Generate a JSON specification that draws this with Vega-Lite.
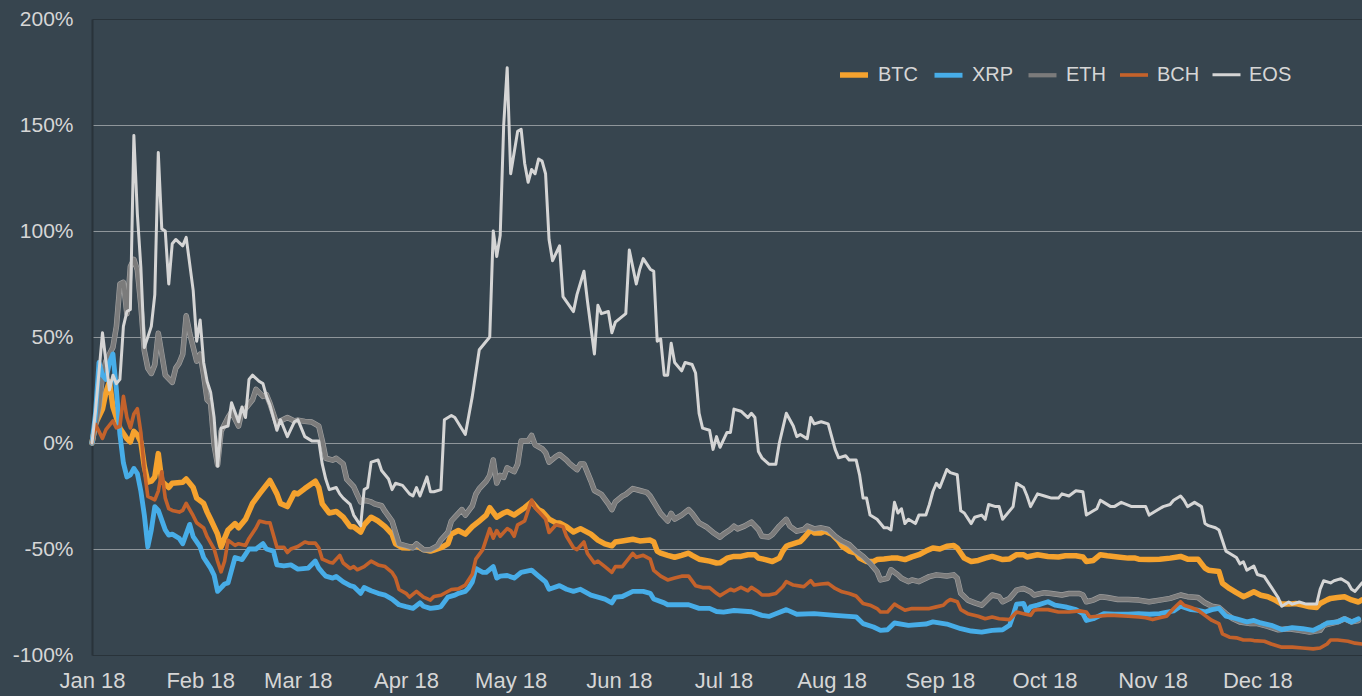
{
"$schema":"https://vega.github.io/schema/vega-lite/v6.json",
"width":1270,"height":636,
"autosize":{"type":"none"},
"padding":{"left":92,"top":19,"right":0,"bottom":41},
"background":"#37454f",
"config":{"view":{"stroke":null},"font":"Liberation Sans",
"legend":{"orient":"none","legendX":745,"legendY":39,"direction":"horizontal","symbolType":"stroke","symbolSize":784,"labelFontSize":20,"labelColor":"#d6d6d6","labelFont":"Liberation Sans","columnPadding":6,"labelOffset":7,"padding":0}},
"datasets":{"months":[{"d":"2018-02-01"},{"d":"2018-03-01"},{"d":"2018-04-01"},{"d":"2018-05-01"},{"d":"2018-06-01"},{"d":"2018-07-01"},{"d":"2018-08-01"},{"d":"2018-09-01"},{"d":"2018-10-01"},{"d":"2018-11-01"},{"d":"2018-12-01"}]},
"data":{"values":[
{"s":"BTC","d":"2018-01-01","v":0},{"s":"BTC","d":"2018-01-02","v":9},{"s":"BTC","d":"2018-01-04","v":16},{"s":"BTC","d":"2018-01-05","v":24},{"s":"BTC","d":"2018-01-06","v":29},{"s":"BTC","d":"2018-01-07","v":17},{"s":"BTC","d":"2018-01-08","v":12},{"s":"BTC","d":"2018-01-09","v":7},{"s":"BTC","d":"2018-01-11","v":2},{"s":"BTC","d":"2018-01-12","v":0.5},{"s":"BTC","d":"2018-01-13","v":5.5},{"s":"BTC","d":"2018-01-14","v":3.8},{"s":"BTC","d":"2018-01-15","v":0.5},{"s":"BTC","d":"2018-01-16","v":-11},{"s":"BTC","d":"2018-01-17","v":-18.5},{"s":"BTC","d":"2018-01-18","v":-18},{"s":"BTC","d":"2018-01-19","v":-16},{"s":"BTC","d":"2018-01-20","v":-5},{"s":"BTC","d":"2018-01-21","v":-18},{"s":"BTC","d":"2018-01-23","v":-21},{"s":"BTC","d":"2018-01-24","v":-19},{"s":"BTC","d":"2018-01-27","v":-18.5},{"s":"BTC","d":"2018-01-28","v":-17},{"s":"BTC","d":"2018-01-30","v":-21},{"s":"BTC","d":"2018-01-31","v":-26},{"s":"BTC","d":"2018-02-02","v":-28.5},{"s":"BTC","d":"2018-02-03","v":-32.6},{"s":"BTC","d":"2018-02-04","v":-36},{"s":"BTC","d":"2018-02-06","v":-43},{"s":"BTC","d":"2018-02-07","v":-49},{"s":"BTC","d":"2018-02-08","v":-45},{"s":"BTC","d":"2018-02-09","v":-41},{"s":"BTC","d":"2018-02-11","v":-38},{"s":"BTC","d":"2018-02-12","v":-40},{"s":"BTC","d":"2018-02-14","v":-36},{"s":"BTC","d":"2018-02-16","v":-28.5},{"s":"BTC","d":"2018-02-18","v":-24},{"s":"BTC","d":"2018-02-21","v":-17.7},{"s":"BTC","d":"2018-02-23","v":-24},{"s":"BTC","d":"2018-02-24","v":-28.5},{"s":"BTC","d":"2018-02-26","v":-30},{"s":"BTC","d":"2018-02-28","v":-23.5},{"s":"BTC","d":"2018-03-01","v":-24},{"s":"BTC","d":"2018-03-03","v":-21.5},{"s":"BTC","d":"2018-03-06","v":-18},{"s":"BTC","d":"2018-03-07","v":-21},{"s":"BTC","d":"2018-03-08","v":-28.7},{"s":"BTC","d":"2018-03-10","v":-33},{"s":"BTC","d":"2018-03-12","v":-32.3},{"s":"BTC","d":"2018-03-14","v":-35},{"s":"BTC","d":"2018-03-16","v":-39.5},{"s":"BTC","d":"2018-03-17","v":-39.5},{"s":"BTC","d":"2018-03-19","v":-42},{"s":"BTC","d":"2018-03-20","v":-38.6},{"s":"BTC","d":"2018-03-22","v":-35},{"s":"BTC","d":"2018-03-24","v":-36.8},{"s":"BTC","d":"2018-03-26","v":-39.5},{"s":"BTC","d":"2018-03-28","v":-43},{"s":"BTC","d":"2018-03-29","v":-47.6},{"s":"BTC","d":"2018-03-31","v":-49.4},{"s":"BTC","d":"2018-04-02","v":-49.5},{"s":"BTC","d":"2018-04-04","v":-48.5},{"s":"BTC","d":"2018-04-06","v":-50.3},{"s":"BTC","d":"2018-04-08","v":-51},{"s":"BTC","d":"2018-04-09","v":-50.5},{"s":"BTC","d":"2018-04-11","v":-49.4},{"s":"BTC","d":"2018-04-13","v":-47.6},{"s":"BTC","d":"2018-04-14","v":-43},{"s":"BTC","d":"2018-04-16","v":-41.3},{"s":"BTC","d":"2018-04-18","v":-43},{"s":"BTC","d":"2018-04-20","v":-39.5},{"s":"BTC","d":"2018-04-22","v":-36.8},{"s":"BTC","d":"2018-04-24","v":-34},{"s":"BTC","d":"2018-04-25","v":-30.5},{"s":"BTC","d":"2018-04-27","v":-35},{"s":"BTC","d":"2018-04-29","v":-33},{"s":"BTC","d":"2018-04-30","v":-32.3},{"s":"BTC","d":"2018-05-02","v":-34},{"s":"BTC","d":"2018-05-05","v":-30.5},{"s":"BTC","d":"2018-05-07","v":-27.8},{"s":"BTC","d":"2018-05-09","v":-31.5},{"s":"BTC","d":"2018-05-10","v":-32.3},{"s":"BTC","d":"2018-05-12","v":-35.9},{"s":"BTC","d":"2018-05-14","v":-37.7},{"s":"BTC","d":"2018-05-15","v":-37.7},{"s":"BTC","d":"2018-05-17","v":-39.5},{"s":"BTC","d":"2018-05-19","v":-42},{"s":"BTC","d":"2018-05-21","v":-40.4},{"s":"BTC","d":"2018-05-24","v":-43},{"s":"BTC","d":"2018-05-26","v":-45.8},{"s":"BTC","d":"2018-05-28","v":-47.6},{"s":"BTC","d":"2018-05-30","v":-48.5},{"s":"BTC","d":"2018-05-31","v":-46.7},{"s":"BTC","d":"2018-06-02","v":-46.2},{"s":"BTC","d":"2018-06-05","v":-45.4},{"s":"BTC","d":"2018-06-07","v":-46.2},{"s":"BTC","d":"2018-06-10","v":-45.8},{"s":"BTC","d":"2018-06-11","v":-46.7},{"s":"BTC","d":"2018-06-12","v":-51},{"s":"BTC","d":"2018-06-13","v":-52},{"s":"BTC","d":"2018-06-15","v":-53},{"s":"BTC","d":"2018-06-17","v":-53.9},{"s":"BTC","d":"2018-06-19","v":-53},{"s":"BTC","d":"2018-06-21","v":-52},{"s":"BTC","d":"2018-06-22","v":-53},{"s":"BTC","d":"2018-06-24","v":-54.8},{"s":"BTC","d":"2018-06-27","v":-55.7},{"s":"BTC","d":"2018-06-29","v":-56.6},{"s":"BTC","d":"2018-06-30","v":-56.5},{"s":"BTC","d":"2018-07-01","v":-55.5},{"s":"BTC","d":"2018-07-02","v":-54.3},{"s":"BTC","d":"2018-07-04","v":-53.5},{"s":"BTC","d":"2018-07-06","v":-53.5},{"s":"BTC","d":"2018-07-08","v":-52.7},{"s":"BTC","d":"2018-07-10","v":-52.7},{"s":"BTC","d":"2018-07-11","v":-54.3},{"s":"BTC","d":"2018-07-13","v":-55},{"s":"BTC","d":"2018-07-15","v":-55.9},{"s":"BTC","d":"2018-07-17","v":-54.3},{"s":"BTC","d":"2018-07-18","v":-51},{"s":"BTC","d":"2018-07-19","v":-48.7},{"s":"BTC","d":"2018-07-20","v":-48},{"s":"BTC","d":"2018-07-22","v":-47},{"s":"BTC","d":"2018-07-23","v":-46.5},{"s":"BTC","d":"2018-07-24","v":-44.8},{"s":"BTC","d":"2018-07-26","v":-41},{"s":"BTC","d":"2018-07-27","v":-42.4},{"s":"BTC","d":"2018-07-29","v":-42.4},{"s":"BTC","d":"2018-07-30","v":-41.6},{"s":"BTC","d":"2018-08-01","v":-43},{"s":"BTC","d":"2018-08-03","v":-46.3},{"s":"BTC","d":"2018-08-04","v":-48.7},{"s":"BTC","d":"2018-08-06","v":-51},{"s":"BTC","d":"2018-08-08","v":-52},{"s":"BTC","d":"2018-08-09","v":-54.3},{"s":"BTC","d":"2018-08-11","v":-55.9},{"s":"BTC","d":"2018-08-13","v":-55.9},{"s":"BTC","d":"2018-08-14","v":-55},{"s":"BTC","d":"2018-08-16","v":-54.7},{"s":"BTC","d":"2018-08-18","v":-54.3},{"s":"BTC","d":"2018-08-20","v":-54.3},{"s":"BTC","d":"2018-08-22","v":-55},{"s":"BTC","d":"2018-08-24","v":-53.7},{"s":"BTC","d":"2018-08-26","v":-52.7},{"s":"BTC","d":"2018-08-28","v":-51},{"s":"BTC","d":"2018-08-30","v":-49.5},{"s":"BTC","d":"2018-09-01","v":-50},{"s":"BTC","d":"2018-09-03","v":-48.7},{"s":"BTC","d":"2018-09-05","v":-48.4},{"s":"BTC","d":"2018-09-06","v":-49.5},{"s":"BTC","d":"2018-09-08","v":-54.3},{"s":"BTC","d":"2018-09-10","v":-55.9},{"s":"BTC","d":"2018-09-12","v":-55.4},{"s":"BTC","d":"2018-09-14","v":-54.3},{"s":"BTC","d":"2018-09-16","v":-53.5},{"s":"BTC","d":"2018-09-19","v":-55},{"s":"BTC","d":"2018-09-21","v":-54.7},{"s":"BTC","d":"2018-09-23","v":-52.7},{"s":"BTC","d":"2018-09-25","v":-52.7},{"s":"BTC","d":"2018-09-26","v":-53.8},{"s":"BTC","d":"2018-09-29","v":-52.7},{"s":"BTC","d":"2018-10-02","v":-53.5},{"s":"BTC","d":"2018-10-05","v":-53.8},{"s":"BTC","d":"2018-10-07","v":-53.2},{"s":"BTC","d":"2018-10-10","v":-53.2},{"s":"BTC","d":"2018-10-12","v":-53.8},{"s":"BTC","d":"2018-10-13","v":-55.9},{"s":"BTC","d":"2018-10-15","v":-55.4},{"s":"BTC","d":"2018-10-17","v":-52.7},{"s":"BTC","d":"2018-10-19","v":-53.2},{"s":"BTC","d":"2018-10-22","v":-53.8},{"s":"BTC","d":"2018-10-25","v":-54.3},{"s":"BTC","d":"2018-10-27","v":-54.3},{"s":"BTC","d":"2018-10-28","v":-54.8},{"s":"BTC","d":"2018-10-31","v":-55},{"s":"BTC","d":"2018-11-03","v":-54.8},{"s":"BTC","d":"2018-11-06","v":-54.3},{"s":"BTC","d":"2018-11-09","v":-53.5},{"s":"BTC","d":"2018-11-11","v":-54.8},{"s":"BTC","d":"2018-11-14","v":-54.8},{"s":"BTC","d":"2018-11-16","v":-59},{"s":"BTC","d":"2018-11-17","v":-60},{"s":"BTC","d":"2018-11-20","v":-60.6},{"s":"BTC","d":"2018-11-21","v":-66.2},{"s":"BTC","d":"2018-11-23","v":-68.6},{"s":"BTC","d":"2018-11-25","v":-70.6},{"s":"BTC","d":"2018-11-27","v":-72.5},{"s":"BTC","d":"2018-11-28","v":-71.8},{"s":"BTC","d":"2018-11-30","v":-70.2},{"s":"BTC","d":"2018-12-02","v":-71.8},{"s":"BTC","d":"2018-12-04","v":-72.5},{"s":"BTC","d":"2018-12-06","v":-74},{"s":"BTC","d":"2018-12-08","v":-76},{"s":"BTC","d":"2018-12-10","v":-76},{"s":"BTC","d":"2018-12-12","v":-75.7},{"s":"BTC","d":"2018-12-14","v":-76.5},{"s":"BTC","d":"2018-12-16","v":-77.3},{"s":"BTC","d":"2018-12-18","v":-77.6},{"s":"BTC","d":"2018-12-19","v":-75.7},{"s":"BTC","d":"2018-12-21","v":-74},{"s":"BTC","d":"2018-12-22","v":-73.3},{"s":"BTC","d":"2018-12-24","v":-72.9},{"s":"BTC","d":"2018-12-26","v":-72.5},{"s":"BTC","d":"2018-12-28","v":-74},{"s":"BTC","d":"2018-12-30","v":-75},{"s":"BTC","d":"2018-12-31","v":-74},
{"s":"XRP","d":"2018-01-01","v":0},{"s":"XRP","d":"2018-01-02","v":14},{"s":"XRP","d":"2018-01-03","v":38},{"s":"XRP","d":"2018-01-04","v":32},{"s":"XRP","d":"2018-01-05","v":30},{"s":"XRP","d":"2018-01-06","v":38},{"s":"XRP","d":"2018-01-07","v":42},{"s":"XRP","d":"2018-01-08","v":25},{"s":"XRP","d":"2018-01-09","v":4},{"s":"XRP","d":"2018-01-10","v":-9.4},{"s":"XRP","d":"2018-01-11","v":-16},{"s":"XRP","d":"2018-01-12","v":-15},{"s":"XRP","d":"2018-01-13","v":-12},{"s":"XRP","d":"2018-01-14","v":-14.4},{"s":"XRP","d":"2018-01-15","v":-22.7},{"s":"XRP","d":"2018-01-16","v":-34},{"s":"XRP","d":"2018-01-17","v":-49},{"s":"XRP","d":"2018-01-18","v":-41},{"s":"XRP","d":"2018-01-19","v":-30},{"s":"XRP","d":"2018-01-20","v":-31.8},{"s":"XRP","d":"2018-01-22","v":-41},{"s":"XRP","d":"2018-01-23","v":-43.4},{"s":"XRP","d":"2018-01-24","v":-43},{"s":"XRP","d":"2018-01-26","v":-45},{"s":"XRP","d":"2018-01-27","v":-47.5},{"s":"XRP","d":"2018-01-29","v":-38.4},{"s":"XRP","d":"2018-01-30","v":-44.2},{"s":"XRP","d":"2018-02-01","v":-49},{"s":"XRP","d":"2018-02-02","v":-54},{"s":"XRP","d":"2018-02-04","v":-59},{"s":"XRP","d":"2018-02-05","v":-62.4},{"s":"XRP","d":"2018-02-06","v":-70},{"s":"XRP","d":"2018-02-08","v":-66.5},{"s":"XRP","d":"2018-02-09","v":-66},{"s":"XRP","d":"2018-02-11","v":-54},{"s":"XRP","d":"2018-02-13","v":-55},{"s":"XRP","d":"2018-02-14","v":-52.5},{"s":"XRP","d":"2018-02-15","v":-50},{"s":"XRP","d":"2018-02-17","v":-50},{"s":"XRP","d":"2018-02-19","v":-47.5},{"s":"XRP","d":"2018-02-20","v":-50},{"s":"XRP","d":"2018-02-22","v":-51},{"s":"XRP","d":"2018-02-23","v":-57.5},{"s":"XRP","d":"2018-02-25","v":-58},{"s":"XRP","d":"2018-02-27","v":-57.5},{"s":"XRP","d":"2018-03-01","v":-59.5},{"s":"XRP","d":"2018-03-04","v":-59},{"s":"XRP","d":"2018-03-06","v":-55.7},{"s":"XRP","d":"2018-03-07","v":-59},{"s":"XRP","d":"2018-03-08","v":-61},{"s":"XRP","d":"2018-03-09","v":-62.8},{"s":"XRP","d":"2018-03-11","v":-63.7},{"s":"XRP","d":"2018-03-12","v":-63},{"s":"XRP","d":"2018-03-14","v":-65.5},{"s":"XRP","d":"2018-03-16","v":-67.3},{"s":"XRP","d":"2018-03-17","v":-67.7},{"s":"XRP","d":"2018-03-19","v":-70.9},{"s":"XRP","d":"2018-03-20","v":-68.2},{"s":"XRP","d":"2018-03-22","v":-69.7},{"s":"XRP","d":"2018-03-24","v":-70.9},{"s":"XRP","d":"2018-03-26","v":-71.8},{"s":"XRP","d":"2018-03-28","v":-73.6},{"s":"XRP","d":"2018-03-30","v":-76.3},{"s":"XRP","d":"2018-04-01","v":-77.2},{"s":"XRP","d":"2018-04-03","v":-78},{"s":"XRP","d":"2018-04-05","v":-75.4},{"s":"XRP","d":"2018-04-06","v":-77},{"s":"XRP","d":"2018-04-08","v":-78},{"s":"XRP","d":"2018-04-10","v":-77.6},{"s":"XRP","d":"2018-04-11","v":-77.2},{"s":"XRP","d":"2018-04-13","v":-72.7},{"s":"XRP","d":"2018-04-15","v":-71.8},{"s":"XRP","d":"2018-04-16","v":-70.9},{"s":"XRP","d":"2018-04-18","v":-70},{"s":"XRP","d":"2018-04-19","v":-68.2},{"s":"XRP","d":"2018-04-20","v":-65.5},{"s":"XRP","d":"2018-04-21","v":-59.2},{"s":"XRP","d":"2018-04-23","v":-61},{"s":"XRP","d":"2018-04-24","v":-61},{"s":"XRP","d":"2018-04-26","v":-58.3},{"s":"XRP","d":"2018-04-27","v":-63.7},{"s":"XRP","d":"2018-04-28","v":-62.8},{"s":"XRP","d":"2018-04-30","v":-62.5},{"s":"XRP","d":"2018-05-02","v":-63.7},{"s":"XRP","d":"2018-05-04","v":-61},{"s":"XRP","d":"2018-05-07","v":-60},{"s":"XRP","d":"2018-05-09","v":-62.8},{"s":"XRP","d":"2018-05-11","v":-65.5},{"s":"XRP","d":"2018-05-12","v":-69},{"s":"XRP","d":"2018-05-15","v":-67.3},{"s":"XRP","d":"2018-05-17","v":-69},{"s":"XRP","d":"2018-05-19","v":-70},{"s":"XRP","d":"2018-05-21","v":-69},{"s":"XRP","d":"2018-05-24","v":-71.8},{"s":"XRP","d":"2018-05-26","v":-72.7},{"s":"XRP","d":"2018-05-28","v":-73.6},{"s":"XRP","d":"2018-05-30","v":-75.4},{"s":"XRP","d":"2018-05-31","v":-72.7},{"s":"XRP","d":"2018-06-02","v":-72.4},{"s":"XRP","d":"2018-06-05","v":-70},{"s":"XRP","d":"2018-06-08","v":-70},{"s":"XRP","d":"2018-06-10","v":-70.9},{"s":"XRP","d":"2018-06-11","v":-73.6},{"s":"XRP","d":"2018-06-14","v":-75.4},{"s":"XRP","d":"2018-06-15","v":-76.3},{"s":"XRP","d":"2018-06-18","v":-76.3},{"s":"XRP","d":"2018-06-21","v":-76.3},{"s":"XRP","d":"2018-06-24","v":-78},{"s":"XRP","d":"2018-06-27","v":-78},{"s":"XRP","d":"2018-06-29","v":-79.5},{"s":"XRP","d":"2018-07-01","v":-79.8},{"s":"XRP","d":"2018-07-04","v":-79},{"s":"XRP","d":"2018-07-09","v":-79.6},{"s":"XRP","d":"2018-07-12","v":-81.3},{"s":"XRP","d":"2018-07-14","v":-81.8},{"s":"XRP","d":"2018-07-16","v":-80.5},{"s":"XRP","d":"2018-07-19","v":-78.6},{"s":"XRP","d":"2018-07-22","v":-80.8},{"s":"XRP","d":"2018-07-27","v":-80.5},{"s":"XRP","d":"2018-08-02","v":-81.3},{"s":"XRP","d":"2018-08-08","v":-82},{"s":"XRP","d":"2018-08-10","v":-85.2},{"s":"XRP","d":"2018-08-13","v":-86.8},{"s":"XRP","d":"2018-08-15","v":-88.4},{"s":"XRP","d":"2018-08-17","v":-88.1},{"s":"XRP","d":"2018-08-19","v":-84.9},{"s":"XRP","d":"2018-08-23","v":-86},{"s":"XRP","d":"2018-08-28","v":-85.4},{"s":"XRP","d":"2018-08-30","v":-84.4},{"s":"XRP","d":"2018-09-03","v":-85.4},{"s":"XRP","d":"2018-09-07","v":-87.6},{"s":"XRP","d":"2018-09-10","v":-88.7},{"s":"XRP","d":"2018-09-13","v":-89.2},{"s":"XRP","d":"2018-09-16","v":-88.4},{"s":"XRP","d":"2018-09-19","v":-88.1},{"s":"XRP","d":"2018-09-21","v":-86},{"s":"XRP","d":"2018-09-22","v":-81.3},{"s":"XRP","d":"2018-09-23","v":-76},{"s":"XRP","d":"2018-09-25","v":-75.7},{"s":"XRP","d":"2018-09-26","v":-79.7},{"s":"XRP","d":"2018-09-27","v":-77.3},{"s":"XRP","d":"2018-09-29","v":-76.5},{"s":"XRP","d":"2018-10-02","v":-74.9},{"s":"XRP","d":"2018-10-04","v":-76.5},{"s":"XRP","d":"2018-10-07","v":-77.3},{"s":"XRP","d":"2018-10-10","v":-78.6},{"s":"XRP","d":"2018-10-12","v":-80.5},{"s":"XRP","d":"2018-10-13","v":-83.7},{"s":"XRP","d":"2018-10-15","v":-82.9},{"s":"XRP","d":"2018-10-18","v":-80.5},{"s":"XRP","d":"2018-10-21","v":-80.8},{"s":"XRP","d":"2018-10-25","v":-80.8},{"s":"XRP","d":"2018-10-28","v":-80.5},{"s":"XRP","d":"2018-10-31","v":-80.8},{"s":"XRP","d":"2018-11-03","v":-80.5},{"s":"XRP","d":"2018-11-07","v":-79.2},{"s":"XRP","d":"2018-11-09","v":-77},{"s":"XRP","d":"2018-11-12","v":-78.6},{"s":"XRP","d":"2018-11-14","v":-78.9},{"s":"XRP","d":"2018-11-16","v":-79.7},{"s":"XRP","d":"2018-11-18","v":-78.6},{"s":"XRP","d":"2018-11-20","v":-78},{"s":"XRP","d":"2018-11-22","v":-81.7},{"s":"XRP","d":"2018-11-25","v":-82.9},{"s":"XRP","d":"2018-11-28","v":-84.4},{"s":"XRP","d":"2018-11-30","v":-83.7},{"s":"XRP","d":"2018-12-02","v":-84.9},{"s":"XRP","d":"2018-12-05","v":-86},{"s":"XRP","d":"2018-12-08","v":-88},{"s":"XRP","d":"2018-12-11","v":-87.1},{"s":"XRP","d":"2018-12-14","v":-87.6},{"s":"XRP","d":"2018-12-17","v":-88.4},{"s":"XRP","d":"2018-12-19","v":-86.8},{"s":"XRP","d":"2018-12-21","v":-84.9},{"s":"XRP","d":"2018-12-24","v":-84.4},{"s":"XRP","d":"2018-12-26","v":-82.9},{"s":"XRP","d":"2018-12-28","v":-84.4},{"s":"XRP","d":"2018-12-30","v":-82.9},
{"s":"ETH","d":"2018-01-01","v":0},{"s":"ETH","d":"2018-01-03","v":17},{"s":"ETH","d":"2018-01-04","v":32},{"s":"ETH","d":"2018-01-05","v":38.6},{"s":"ETH","d":"2018-01-07","v":45.2},{"s":"ETH","d":"2018-01-08","v":55},{"s":"ETH","d":"2018-01-09","v":75},{"s":"ETH","d":"2018-01-10","v":75.8},{"s":"ETH","d":"2018-01-11","v":61},{"s":"ETH","d":"2018-01-12","v":83.3},{"s":"ETH","d":"2018-01-13","v":86.6},{"s":"ETH","d":"2018-01-14","v":81.6},{"s":"ETH","d":"2018-01-15","v":65},{"s":"ETH","d":"2018-01-16","v":43.5},{"s":"ETH","d":"2018-01-17","v":35.3},{"s":"ETH","d":"2018-01-18","v":32.8},{"s":"ETH","d":"2018-01-19","v":36.9},{"s":"ETH","d":"2018-01-20","v":51.8},{"s":"ETH","d":"2018-01-21","v":41.9},{"s":"ETH","d":"2018-01-22","v":32},{"s":"ETH","d":"2018-01-24","v":28.6},{"s":"ETH","d":"2018-01-25","v":35.3},{"s":"ETH","d":"2018-01-26","v":37.7},{"s":"ETH","d":"2018-01-27","v":41.9},{"s":"ETH","d":"2018-01-28","v":60},{"s":"ETH","d":"2018-01-29","v":51.8},{"s":"ETH","d":"2018-01-31","v":38.6},{"s":"ETH","d":"2018-02-01","v":41.9},{"s":"ETH","d":"2018-02-02","v":32},{"s":"ETH","d":"2018-02-03","v":20.4},{"s":"ETH","d":"2018-02-04","v":18.7},{"s":"ETH","d":"2018-02-05","v":-1},{"s":"ETH","d":"2018-02-06","v":-10.3},{"s":"ETH","d":"2018-02-07","v":5.5},{"s":"ETH","d":"2018-02-09","v":12},{"s":"ETH","d":"2018-02-10","v":14.6},{"s":"ETH","d":"2018-02-12","v":8},{"s":"ETH","d":"2018-02-13","v":15.4},{"s":"ETH","d":"2018-02-14","v":16.2},{"s":"ETH","d":"2018-02-16","v":20.4},{"s":"ETH","d":"2018-02-17","v":25.3},{"s":"ETH","d":"2018-02-19","v":22},{"s":"ETH","d":"2018-02-20","v":22.8},{"s":"ETH","d":"2018-02-21","v":18.7},{"s":"ETH","d":"2018-02-23","v":8.8},{"s":"ETH","d":"2018-02-24","v":10.4},{"s":"ETH","d":"2018-02-26","v":12},{"s":"ETH","d":"2018-02-28","v":10.4},{"s":"ETH","d":"2018-03-01","v":10.8},{"s":"ETH","d":"2018-03-03","v":10.2},{"s":"ETH","d":"2018-03-05","v":9.9},{"s":"ETH","d":"2018-03-07","v":8},{"s":"ETH","d":"2018-03-08","v":1},{"s":"ETH","d":"2018-03-09","v":-7.2},{"s":"ETH","d":"2018-03-11","v":-8.1},{"s":"ETH","d":"2018-03-12","v":-7.2},{"s":"ETH","d":"2018-03-14","v":-9.9},{"s":"ETH","d":"2018-03-15","v":-17},{"s":"ETH","d":"2018-03-17","v":-20.6},{"s":"ETH","d":"2018-03-18","v":-24.2},{"s":"ETH","d":"2018-03-19","v":-27.8},{"s":"ETH","d":"2018-03-20","v":-26.9},{"s":"ETH","d":"2018-03-22","v":-27.8},{"s":"ETH","d":"2018-03-23","v":-28.7},{"s":"ETH","d":"2018-03-25","v":-29.6},{"s":"ETH","d":"2018-03-26","v":-32.3},{"s":"ETH","d":"2018-03-28","v":-36.8},{"s":"ETH","d":"2018-03-29","v":-42.2},{"s":"ETH","d":"2018-03-30","v":-47.6},{"s":"ETH","d":"2018-04-01","v":-48.5},{"s":"ETH","d":"2018-04-03","v":-49.4},{"s":"ETH","d":"2018-04-04","v":-47.6},{"s":"ETH","d":"2018-04-06","v":-50.3},{"s":"ETH","d":"2018-04-08","v":-50.3},{"s":"ETH","d":"2018-04-10","v":-48.5},{"s":"ETH","d":"2018-04-11","v":-45.8},{"s":"ETH","d":"2018-04-13","v":-42.2},{"s":"ETH","d":"2018-04-14","v":-36.8},{"s":"ETH","d":"2018-04-15","v":-35},{"s":"ETH","d":"2018-04-17","v":-31.4},{"s":"ETH","d":"2018-04-18","v":-34},{"s":"ETH","d":"2018-04-20","v":-29.6},{"s":"ETH","d":"2018-04-21","v":-24.2},{"s":"ETH","d":"2018-04-22","v":-21.5},{"s":"ETH","d":"2018-04-24","v":-18},{"s":"ETH","d":"2018-04-25","v":-15.3},{"s":"ETH","d":"2018-04-26","v":-8},{"s":"ETH","d":"2018-04-27","v":-18.9},{"s":"ETH","d":"2018-04-28","v":-15.3},{"s":"ETH","d":"2018-04-29","v":-16.2},{"s":"ETH","d":"2018-04-30","v":-11.7},{"s":"ETH","d":"2018-05-02","v":-13.5},{"s":"ETH","d":"2018-05-03","v":-9.9},{"s":"ETH","d":"2018-05-04","v":1},{"s":"ETH","d":"2018-05-06","v":1},{"s":"ETH","d":"2018-05-07","v":3.6},{"s":"ETH","d":"2018-05-08","v":-0.9},{"s":"ETH","d":"2018-05-10","v":-2.7},{"s":"ETH","d":"2018-05-11","v":-4.5},{"s":"ETH","d":"2018-05-12","v":-9},{"s":"ETH","d":"2018-05-14","v":-6.3},{"s":"ETH","d":"2018-05-15","v":-5.4},{"s":"ETH","d":"2018-05-17","v":-8.1},{"s":"ETH","d":"2018-05-18","v":-9.9},{"s":"ETH","d":"2018-05-20","v":-12.6},{"s":"ETH","d":"2018-05-21","v":-9.9},{"s":"ETH","d":"2018-05-22","v":-9.9},{"s":"ETH","d":"2018-05-24","v":-18},{"s":"ETH","d":"2018-05-25","v":-22.4},{"s":"ETH","d":"2018-05-27","v":-24.2},{"s":"ETH","d":"2018-05-29","v":-28.7},{"s":"ETH","d":"2018-05-30","v":-31.4},{"s":"ETH","d":"2018-05-31","v":-27.8},{"s":"ETH","d":"2018-06-02","v":-25.1},{"s":"ETH","d":"2018-06-03","v":-24.2},{"s":"ETH","d":"2018-06-05","v":-21.5},{"s":"ETH","d":"2018-06-07","v":-22.4},{"s":"ETH","d":"2018-06-09","v":-23.3},{"s":"ETH","d":"2018-06-10","v":-25.1},{"s":"ETH","d":"2018-06-12","v":-30.5},{"s":"ETH","d":"2018-06-13","v":-33.2},{"s":"ETH","d":"2018-06-15","v":-36.8},{"s":"ETH","d":"2018-06-16","v":-33.2},{"s":"ETH","d":"2018-06-17","v":-35.9},{"s":"ETH","d":"2018-06-19","v":-34},{"s":"ETH","d":"2018-06-21","v":-31.4},{"s":"ETH","d":"2018-06-22","v":-33.2},{"s":"ETH","d":"2018-06-24","v":-37.7},{"s":"ETH","d":"2018-06-26","v":-39.5},{"s":"ETH","d":"2018-06-28","v":-42.2},{"s":"ETH","d":"2018-06-30","v":-44.4},{"s":"ETH","d":"2018-07-01","v":-43},{"s":"ETH","d":"2018-07-03","v":-40.8},{"s":"ETH","d":"2018-07-04","v":-39.2},{"s":"ETH","d":"2018-07-05","v":-40.5},{"s":"ETH","d":"2018-07-07","v":-39.2},{"s":"ETH","d":"2018-07-09","v":-37.3},{"s":"ETH","d":"2018-07-11","v":-40.8},{"s":"ETH","d":"2018-07-12","v":-44},{"s":"ETH","d":"2018-07-14","v":-44.3},{"s":"ETH","d":"2018-07-15","v":-43.2},{"s":"ETH","d":"2018-07-17","v":-39.2},{"s":"ETH","d":"2018-07-19","v":-36},{"s":"ETH","d":"2018-07-20","v":-39.2},{"s":"ETH","d":"2018-07-22","v":-41.6},{"s":"ETH","d":"2018-07-24","v":-40.8},{"s":"ETH","d":"2018-07-25","v":-39.2},{"s":"ETH","d":"2018-07-27","v":-40.5},{"s":"ETH","d":"2018-07-29","v":-40},{"s":"ETH","d":"2018-07-31","v":-40.8},{"s":"ETH","d":"2018-08-02","v":-44},{"s":"ETH","d":"2018-08-04","v":-46.3},{"s":"ETH","d":"2018-08-06","v":-47.9},{"s":"ETH","d":"2018-08-08","v":-51.1},{"s":"ETH","d":"2018-08-10","v":-53.5},{"s":"ETH","d":"2018-08-12","v":-56.7},{"s":"ETH","d":"2018-08-14","v":-60.6},{"s":"ETH","d":"2018-08-15","v":-64.6},{"s":"ETH","d":"2018-08-17","v":-63.8},{"s":"ETH","d":"2018-08-18","v":-59.8},{"s":"ETH","d":"2018-08-20","v":-62.2},{"s":"ETH","d":"2018-08-21","v":-63.8},{"s":"ETH","d":"2018-08-23","v":-65.4},{"s":"ETH","d":"2018-08-24","v":-64.6},{"s":"ETH","d":"2018-08-26","v":-65.4},{"s":"ETH","d":"2018-08-28","v":-63.8},{"s":"ETH","d":"2018-08-29","v":-63},{"s":"ETH","d":"2018-08-31","v":-62.2},{"s":"ETH","d":"2018-09-03","v":-62.7},{"s":"ETH","d":"2018-09-05","v":-62.2},{"s":"ETH","d":"2018-09-06","v":-63.8},{"s":"ETH","d":"2018-09-07","v":-70.9},{"s":"ETH","d":"2018-09-09","v":-74.1},{"s":"ETH","d":"2018-09-11","v":-75.4},{"s":"ETH","d":"2018-09-13","v":-76.5},{"s":"ETH","d":"2018-09-15","v":-73.3},{"s":"ETH","d":"2018-09-16","v":-71.7},{"s":"ETH","d":"2018-09-18","v":-72.5},{"s":"ETH","d":"2018-09-19","v":-74.9},{"s":"ETH","d":"2018-09-21","v":-73.3},{"s":"ETH","d":"2018-09-23","v":-69.4},{"s":"ETH","d":"2018-09-25","v":-68.6},{"s":"ETH","d":"2018-09-27","v":-70.2},{"s":"ETH","d":"2018-09-28","v":-71.7},{"s":"ETH","d":"2018-10-01","v":-70.6},{"s":"ETH","d":"2018-10-03","v":-71},{"s":"ETH","d":"2018-10-06","v":-71.7},{"s":"ETH","d":"2018-10-08","v":-71},{"s":"ETH","d":"2018-10-11","v":-71},{"s":"ETH","d":"2018-10-12","v":-71.7},{"s":"ETH","d":"2018-10-13","v":-74.9},{"s":"ETH","d":"2018-10-15","v":-74.1},{"s":"ETH","d":"2018-10-17","v":-72.5},{"s":"ETH","d":"2018-10-19","v":-72.9},{"s":"ETH","d":"2018-10-22","v":-73.8},{"s":"ETH","d":"2018-10-25","v":-73.8},{"s":"ETH","d":"2018-10-28","v":-74.1},{"s":"ETH","d":"2018-10-31","v":-74.9},{"s":"ETH","d":"2018-11-03","v":-74.1},{"s":"ETH","d":"2018-11-06","v":-73.3},{"s":"ETH","d":"2018-11-09","v":-71.7},{"s":"ETH","d":"2018-11-11","v":-72.5},{"s":"ETH","d":"2018-11-14","v":-72.9},{"s":"ETH","d":"2018-11-16","v":-75.4},{"s":"ETH","d":"2018-11-18","v":-77},{"s":"ETH","d":"2018-11-20","v":-77.6},{"s":"ETH","d":"2018-11-22","v":-80.5},{"s":"ETH","d":"2018-11-24","v":-82.9},{"s":"ETH","d":"2018-11-26","v":-84.4},{"s":"ETH","d":"2018-11-29","v":-85.2},{"s":"ETH","d":"2018-12-01","v":-85.2},{"s":"ETH","d":"2018-12-04","v":-86.5},{"s":"ETH","d":"2018-12-07","v":-88.1},{"s":"ETH","d":"2018-12-10","v":-87.6},{"s":"ETH","d":"2018-12-13","v":-88.4},{"s":"ETH","d":"2018-12-16","v":-89.2},{"s":"ETH","d":"2018-12-19","v":-88.4},{"s":"ETH","d":"2018-12-20","v":-86},{"s":"ETH","d":"2018-12-22","v":-85.2},{"s":"ETH","d":"2018-12-24","v":-84.4},{"s":"ETH","d":"2018-12-26","v":-82.9},{"s":"ETH","d":"2018-12-28","v":-84.4},{"s":"ETH","d":"2018-12-30","v":-83.7},
{"s":"BCH","d":"2018-01-01","v":0},{"s":"BCH","d":"2018-01-02","v":8.8},{"s":"BCH","d":"2018-01-03","v":5.5},{"s":"BCH","d":"2018-01-04","v":2.2},{"s":"BCH","d":"2018-01-05","v":6.3},{"s":"BCH","d":"2018-01-07","v":10.4},{"s":"BCH","d":"2018-01-08","v":7.1},{"s":"BCH","d":"2018-01-09","v":7.9},{"s":"BCH","d":"2018-01-10","v":22},{"s":"BCH","d":"2018-01-11","v":12.1},{"s":"BCH","d":"2018-01-12","v":7.1},{"s":"BCH","d":"2018-01-13","v":13.7},{"s":"BCH","d":"2018-01-14","v":16.2},{"s":"BCH","d":"2018-01-15","v":5},{"s":"BCH","d":"2018-01-16","v":-12.7},{"s":"BCH","d":"2018-01-17","v":-25.2},{"s":"BCH","d":"2018-01-19","v":-26.8},{"s":"BCH","d":"2018-01-20","v":-22.7},{"s":"BCH","d":"2018-01-21","v":-13.6},{"s":"BCH","d":"2018-01-22","v":-26},{"s":"BCH","d":"2018-01-23","v":-31},{"s":"BCH","d":"2018-01-24","v":-31.8},{"s":"BCH","d":"2018-01-26","v":-32.6},{"s":"BCH","d":"2018-01-27","v":-31.8},{"s":"BCH","d":"2018-01-28","v":-28.5},{"s":"BCH","d":"2018-01-30","v":-34.3},{"s":"BCH","d":"2018-01-31","v":-37.6},{"s":"BCH","d":"2018-02-02","v":-40.1},{"s":"BCH","d":"2018-02-03","v":-44.2},{"s":"BCH","d":"2018-02-05","v":-50},{"s":"BCH","d":"2018-02-06","v":-55.8},{"s":"BCH","d":"2018-02-07","v":-60.8},{"s":"BCH","d":"2018-02-08","v":-55.8},{"s":"BCH","d":"2018-02-09","v":-45.9},{"s":"BCH","d":"2018-02-11","v":-48.3},{"s":"BCH","d":"2018-02-12","v":-47.5},{"s":"BCH","d":"2018-02-14","v":-48.3},{"s":"BCH","d":"2018-02-15","v":-45},{"s":"BCH","d":"2018-02-17","v":-40.1},{"s":"BCH","d":"2018-02-18","v":-36.8},{"s":"BCH","d":"2018-02-20","v":-37.6},{"s":"BCH","d":"2018-02-21","v":-37.6},{"s":"BCH","d":"2018-02-22","v":-43.4},{"s":"BCH","d":"2018-02-23","v":-49.2},{"s":"BCH","d":"2018-02-25","v":-49.2},{"s":"BCH","d":"2018-02-26","v":-51.7},{"s":"BCH","d":"2018-02-27","v":-50},{"s":"BCH","d":"2018-03-01","v":-48.8},{"s":"BCH","d":"2018-03-03","v":-46.7},{"s":"BCH","d":"2018-03-04","v":-47.2},{"s":"BCH","d":"2018-03-06","v":-47.2},{"s":"BCH","d":"2018-03-07","v":-49.4},{"s":"BCH","d":"2018-03-08","v":-54.8},{"s":"BCH","d":"2018-03-10","v":-56.2},{"s":"BCH","d":"2018-03-11","v":-56.6},{"s":"BCH","d":"2018-03-13","v":-53},{"s":"BCH","d":"2018-03-14","v":-56.6},{"s":"BCH","d":"2018-03-16","v":-59.2},{"s":"BCH","d":"2018-03-17","v":-58.3},{"s":"BCH","d":"2018-03-18","v":-59.8},{"s":"BCH","d":"2018-03-20","v":-58.3},{"s":"BCH","d":"2018-03-22","v":-55.7},{"s":"BCH","d":"2018-03-24","v":-57.5},{"s":"BCH","d":"2018-03-26","v":-58.3},{"s":"BCH","d":"2018-03-28","v":-61},{"s":"BCH","d":"2018-03-29","v":-63.7},{"s":"BCH","d":"2018-03-30","v":-69.1},{"s":"BCH","d":"2018-04-01","v":-70.9},{"s":"BCH","d":"2018-04-02","v":-72.7},{"s":"BCH","d":"2018-04-04","v":-70},{"s":"BCH","d":"2018-04-06","v":-72.7},{"s":"BCH","d":"2018-04-08","v":-74.1},{"s":"BCH","d":"2018-04-09","v":-72.4},{"s":"BCH","d":"2018-04-11","v":-71.8},{"s":"BCH","d":"2018-04-14","v":-69.1},{"s":"BCH","d":"2018-04-16","v":-68.8},{"s":"BCH","d":"2018-04-18","v":-67},{"s":"BCH","d":"2018-04-20","v":-61.9},{"s":"BCH","d":"2018-04-21","v":-54.8},{"s":"BCH","d":"2018-04-23","v":-50.3},{"s":"BCH","d":"2018-04-25","v":-40.4},{"s":"BCH","d":"2018-04-26","v":-44.9},{"s":"BCH","d":"2018-04-27","v":-41.3},{"s":"BCH","d":"2018-04-28","v":-44},{"s":"BCH","d":"2018-04-30","v":-40.4},{"s":"BCH","d":"2018-05-01","v":-41.3},{"s":"BCH","d":"2018-05-02","v":-44},{"s":"BCH","d":"2018-05-03","v":-38.6},{"s":"BCH","d":"2018-05-05","v":-36.8},{"s":"BCH","d":"2018-05-07","v":-26.9},{"s":"BCH","d":"2018-05-08","v":-30.5},{"s":"BCH","d":"2018-05-10","v":-34.1},{"s":"BCH","d":"2018-05-11","v":-35.9},{"s":"BCH","d":"2018-05-12","v":-42.2},{"s":"BCH","d":"2018-05-14","v":-38.6},{"s":"BCH","d":"2018-05-16","v":-39.5},{"s":"BCH","d":"2018-05-17","v":-44},{"s":"BCH","d":"2018-05-19","v":-49.4},{"s":"BCH","d":"2018-05-20","v":-50.3},{"s":"BCH","d":"2018-05-22","v":-46.7},{"s":"BCH","d":"2018-05-23","v":-52.1},{"s":"BCH","d":"2018-05-25","v":-56.6},{"s":"BCH","d":"2018-05-26","v":-55.7},{"s":"BCH","d":"2018-05-28","v":-58.3},{"s":"BCH","d":"2018-05-30","v":-61},{"s":"BCH","d":"2018-05-31","v":-58.3},{"s":"BCH","d":"2018-06-02","v":-58.3},{"s":"BCH","d":"2018-06-05","v":-52.1},{"s":"BCH","d":"2018-06-06","v":-53.9},{"s":"BCH","d":"2018-06-08","v":-53},{"s":"BCH","d":"2018-06-10","v":-54.8},{"s":"BCH","d":"2018-06-11","v":-60.1},{"s":"BCH","d":"2018-06-13","v":-62.8},{"s":"BCH","d":"2018-06-15","v":-64.6},{"s":"BCH","d":"2018-06-17","v":-63.7},{"s":"BCH","d":"2018-06-19","v":-62.8},{"s":"BCH","d":"2018-06-21","v":-62.8},{"s":"BCH","d":"2018-06-23","v":-67.3},{"s":"BCH","d":"2018-06-25","v":-68.2},{"s":"BCH","d":"2018-06-27","v":-68.2},{"s":"BCH","d":"2018-06-29","v":-70.9},{"s":"BCH","d":"2018-06-30","v":-72},{"s":"BCH","d":"2018-07-01","v":-71},{"s":"BCH","d":"2018-07-03","v":-69},{"s":"BCH","d":"2018-07-04","v":-69.7},{"s":"BCH","d":"2018-07-06","v":-68.1},{"s":"BCH","d":"2018-07-08","v":-69.7},{"s":"BCH","d":"2018-07-09","v":-68.1},{"s":"BCH","d":"2018-07-11","v":-70.2},{"s":"BCH","d":"2018-07-12","v":-71.7},{"s":"BCH","d":"2018-07-14","v":-71.7},{"s":"BCH","d":"2018-07-16","v":-71},{"s":"BCH","d":"2018-07-18","v":-67.8},{"s":"BCH","d":"2018-07-19","v":-65.4},{"s":"BCH","d":"2018-07-21","v":-67},{"s":"BCH","d":"2018-07-23","v":-67.5},{"s":"BCH","d":"2018-07-24","v":-67.8},{"s":"BCH","d":"2018-07-26","v":-64.9},{"s":"BCH","d":"2018-07-27","v":-67},{"s":"BCH","d":"2018-07-29","v":-66.5},{"s":"BCH","d":"2018-07-31","v":-66.2},{"s":"BCH","d":"2018-08-02","v":-68.6},{"s":"BCH","d":"2018-08-04","v":-70.2},{"s":"BCH","d":"2018-08-06","v":-71},{"s":"BCH","d":"2018-08-08","v":-72.2},{"s":"BCH","d":"2018-08-10","v":-75.7},{"s":"BCH","d":"2018-08-12","v":-76.5},{"s":"BCH","d":"2018-08-14","v":-78.1},{"s":"BCH","d":"2018-08-15","v":-79.7},{"s":"BCH","d":"2018-08-17","v":-79.7},{"s":"BCH","d":"2018-08-19","v":-76},{"s":"BCH","d":"2018-08-20","v":-77},{"s":"BCH","d":"2018-08-22","v":-78.9},{"s":"BCH","d":"2018-08-24","v":-78.1},{"s":"BCH","d":"2018-08-26","v":-78.1},{"s":"BCH","d":"2018-08-29","v":-78.1},{"s":"BCH","d":"2018-08-31","v":-77.3},{"s":"BCH","d":"2018-09-02","v":-76.5},{"s":"BCH","d":"2018-09-03","v":-74.9},{"s":"BCH","d":"2018-09-04","v":-73.8},{"s":"BCH","d":"2018-09-06","v":-74.9},{"s":"BCH","d":"2018-09-07","v":-78.6},{"s":"BCH","d":"2018-09-09","v":-80.5},{"s":"BCH","d":"2018-09-12","v":-81.7},{"s":"BCH","d":"2018-09-14","v":-82.9},{"s":"BCH","d":"2018-09-16","v":-82.1},{"s":"BCH","d":"2018-09-18","v":-82.9},{"s":"BCH","d":"2018-09-21","v":-83.3},{"s":"BCH","d":"2018-09-23","v":-79.7},{"s":"BCH","d":"2018-09-25","v":-80.5},{"s":"BCH","d":"2018-09-27","v":-81.3},{"s":"BCH","d":"2018-09-28","v":-78.9},{"s":"BCH","d":"2018-09-29","v":-78.6},{"s":"BCH","d":"2018-10-02","v":-78.6},{"s":"BCH","d":"2018-10-05","v":-79.7},{"s":"BCH","d":"2018-10-08","v":-79.7},{"s":"BCH","d":"2018-10-11","v":-79.2},{"s":"BCH","d":"2018-10-13","v":-79.7},{"s":"BCH","d":"2018-10-14","v":-82.1},{"s":"BCH","d":"2018-10-16","v":-81.7},{"s":"BCH","d":"2018-10-19","v":-81.3},{"s":"BCH","d":"2018-10-21","v":-81.3},{"s":"BCH","d":"2018-10-25","v":-81.7},{"s":"BCH","d":"2018-10-28","v":-82.1},{"s":"BCH","d":"2018-10-30","v":-82.4},{"s":"BCH","d":"2018-11-01","v":-83.3},{"s":"BCH","d":"2018-11-03","v":-82.4},{"s":"BCH","d":"2018-11-05","v":-81.7},{"s":"BCH","d":"2018-11-07","v":-78.1},{"s":"BCH","d":"2018-11-09","v":-74.9},{"s":"BCH","d":"2018-11-10","v":-76.5},{"s":"BCH","d":"2018-11-12","v":-77.6},{"s":"BCH","d":"2018-11-14","v":-78.9},{"s":"BCH","d":"2018-11-16","v":-81.3},{"s":"BCH","d":"2018-11-18","v":-83.7},{"s":"BCH","d":"2018-11-20","v":-85.2},{"s":"BCH","d":"2018-11-21","v":-90},{"s":"BCH","d":"2018-11-23","v":-91.6},{"s":"BCH","d":"2018-11-25","v":-91.9},{"s":"BCH","d":"2018-11-27","v":-92.9},{"s":"BCH","d":"2018-11-29","v":-92.9},{"s":"BCH","d":"2018-11-30","v":-93.2},{"s":"BCH","d":"2018-12-03","v":-93.5},{"s":"BCH","d":"2018-12-05","v":-94.8},{"s":"BCH","d":"2018-12-08","v":-96.3},{"s":"BCH","d":"2018-12-11","v":-96.3},{"s":"BCH","d":"2018-12-14","v":-96.7},{"s":"BCH","d":"2018-12-17","v":-97.1},{"s":"BCH","d":"2018-12-19","v":-96.7},{"s":"BCH","d":"2018-12-21","v":-94.8},{"s":"BCH","d":"2018-12-22","v":-92.9},{"s":"BCH","d":"2018-12-24","v":-92.9},{"s":"BCH","d":"2018-12-27","v":-93.5},{"s":"BCH","d":"2018-12-29","v":-94.4},{"s":"BCH","d":"2018-12-31","v":-94.8},
{"s":"EOS","d":"2018-01-01","v":0},{"s":"EOS","d":"2018-01-02","v":15},{"s":"EOS","d":"2018-01-04","v":52},{"s":"EOS","d":"2018-01-06","v":25},{"s":"EOS","d":"2018-01-07","v":32},{"s":"EOS","d":"2018-01-08","v":28},{"s":"EOS","d":"2018-01-09","v":30},{"s":"EOS","d":"2018-01-10","v":55},{"s":"EOS","d":"2018-01-11","v":62},{"s":"EOS","d":"2018-01-12","v":63},{"s":"EOS","d":"2018-01-13","v":145},{"s":"EOS","d":"2018-01-14","v":108},{"s":"EOS","d":"2018-01-15","v":83},{"s":"EOS","d":"2018-01-16","v":45},{"s":"EOS","d":"2018-01-18","v":55},{"s":"EOS","d":"2018-01-19","v":70},{"s":"EOS","d":"2018-01-20","v":137},{"s":"EOS","d":"2018-01-21","v":101},{"s":"EOS","d":"2018-01-22","v":100},{"s":"EOS","d":"2018-01-23","v":75},{"s":"EOS","d":"2018-01-24","v":94},{"s":"EOS","d":"2018-01-25","v":96},{"s":"EOS","d":"2018-01-27","v":93},{"s":"EOS","d":"2018-01-28","v":97},{"s":"EOS","d":"2018-01-30","v":72},{"s":"EOS","d":"2018-01-31","v":48},{"s":"EOS","d":"2018-02-01","v":58},{"s":"EOS","d":"2018-02-02","v":38},{"s":"EOS","d":"2018-02-03","v":29},{"s":"EOS","d":"2018-02-04","v":24},{"s":"EOS","d":"2018-02-05","v":12},{"s":"EOS","d":"2018-02-06","v":-11},{"s":"EOS","d":"2018-02-07","v":7},{"s":"EOS","d":"2018-02-09","v":8},{"s":"EOS","d":"2018-02-10","v":19},{"s":"EOS","d":"2018-02-12","v":10},{"s":"EOS","d":"2018-02-13","v":17},{"s":"EOS","d":"2018-02-14","v":12},{"s":"EOS","d":"2018-02-15","v":30},{"s":"EOS","d":"2018-02-16","v":32},{"s":"EOS","d":"2018-02-18","v":29},{"s":"EOS","d":"2018-02-19","v":28},{"s":"EOS","d":"2018-02-20","v":22},{"s":"EOS","d":"2018-02-21","v":18},{"s":"EOS","d":"2018-02-23","v":6},{"s":"EOS","d":"2018-02-24","v":11},{"s":"EOS","d":"2018-02-26","v":3},{"s":"EOS","d":"2018-02-28","v":10},{"s":"EOS","d":"2018-03-01","v":11},{"s":"EOS","d":"2018-03-03","v":3},{"s":"EOS","d":"2018-03-05","v":1},{"s":"EOS","d":"2018-03-07","v":1},{"s":"EOS","d":"2018-03-08","v":-10},{"s":"EOS","d":"2018-03-09","v":-17},{"s":"EOS","d":"2018-03-10","v":-22},{"s":"EOS","d":"2018-03-12","v":-21},{"s":"EOS","d":"2018-03-13","v":-24},{"s":"EOS","d":"2018-03-14","v":-26},{"s":"EOS","d":"2018-03-16","v":-29},{"s":"EOS","d":"2018-03-17","v":-34},{"s":"EOS","d":"2018-03-19","v":-39},{"s":"EOS","d":"2018-03-20","v":-22},{"s":"EOS","d":"2018-03-21","v":-21},{"s":"EOS","d":"2018-03-22","v":-9},{"s":"EOS","d":"2018-03-24","v":-8},{"s":"EOS","d":"2018-03-25","v":-13},{"s":"EOS","d":"2018-03-27","v":-17},{"s":"EOS","d":"2018-03-28","v":-22},{"s":"EOS","d":"2018-03-29","v":-19},{"s":"EOS","d":"2018-03-31","v":-20},{"s":"EOS","d":"2018-04-02","v":-24},{"s":"EOS","d":"2018-04-03","v":-25},{"s":"EOS","d":"2018-04-04","v":-21},{"s":"EOS","d":"2018-04-05","v":-25},{"s":"EOS","d":"2018-04-07","v":-16},{"s":"EOS","d":"2018-04-08","v":-23},{"s":"EOS","d":"2018-04-09","v":-23},{"s":"EOS","d":"2018-04-11","v":-22},{"s":"EOS","d":"2018-04-12","v":11},{"s":"EOS","d":"2018-04-14","v":13},{"s":"EOS","d":"2018-04-15","v":12},{"s":"EOS","d":"2018-04-18","v":4},{"s":"EOS","d":"2018-04-19","v":13},{"s":"EOS","d":"2018-04-20","v":22},{"s":"EOS","d":"2018-04-22","v":44},{"s":"EOS","d":"2018-04-23","v":46},{"s":"EOS","d":"2018-04-25","v":50},{"s":"EOS","d":"2018-04-26","v":100},{"s":"EOS","d":"2018-04-27","v":88},{"s":"EOS","d":"2018-04-28","v":98},{"s":"EOS","d":"2018-04-29","v":150},{"s":"EOS","d":"2018-04-30","v":177},{"s":"EOS","d":"2018-05-01","v":127},{"s":"EOS","d":"2018-05-03","v":147},{"s":"EOS","d":"2018-05-04","v":148},{"s":"EOS","d":"2018-05-05","v":132},{"s":"EOS","d":"2018-05-06","v":123},{"s":"EOS","d":"2018-05-07","v":129},{"s":"EOS","d":"2018-05-08","v":127},{"s":"EOS","d":"2018-05-09","v":134},{"s":"EOS","d":"2018-05-10","v":133},{"s":"EOS","d":"2018-05-11","v":127},{"s":"EOS","d":"2018-05-12","v":96},{"s":"EOS","d":"2018-05-13","v":86},{"s":"EOS","d":"2018-05-15","v":93},{"s":"EOS","d":"2018-05-16","v":69},{"s":"EOS","d":"2018-05-19","v":62},{"s":"EOS","d":"2018-05-20","v":70},{"s":"EOS","d":"2018-05-22","v":81},{"s":"EOS","d":"2018-05-23","v":67},{"s":"EOS","d":"2018-05-25","v":42},{"s":"EOS","d":"2018-05-26","v":65},{"s":"EOS","d":"2018-05-27","v":61},{"s":"EOS","d":"2018-05-29","v":62},{"s":"EOS","d":"2018-05-30","v":52},{"s":"EOS","d":"2018-05-31","v":57},{"s":"EOS","d":"2018-06-03","v":61},{"s":"EOS","d":"2018-06-04","v":91},{"s":"EOS","d":"2018-06-06","v":75},{"s":"EOS","d":"2018-06-07","v":82},{"s":"EOS","d":"2018-06-08","v":87},{"s":"EOS","d":"2018-06-10","v":82},{"s":"EOS","d":"2018-06-11","v":81},{"s":"EOS","d":"2018-06-12","v":48},{"s":"EOS","d":"2018-06-13","v":49},{"s":"EOS","d":"2018-06-14","v":32},{"s":"EOS","d":"2018-06-15","v":32},{"s":"EOS","d":"2018-06-16","v":47},{"s":"EOS","d":"2018-06-17","v":38},{"s":"EOS","d":"2018-06-19","v":34},{"s":"EOS","d":"2018-06-20","v":38},{"s":"EOS","d":"2018-06-22","v":37},{"s":"EOS","d":"2018-06-23","v":33},{"s":"EOS","d":"2018-06-24","v":14},{"s":"EOS","d":"2018-06-25","v":7},{"s":"EOS","d":"2018-06-27","v":6},{"s":"EOS","d":"2018-06-28","v":-3},{"s":"EOS","d":"2018-06-29","v":3},{"s":"EOS","d":"2018-06-30","v":-2},{"s":"EOS","d":"2018-07-02","v":5},{"s":"EOS","d":"2018-07-03","v":5},{"s":"EOS","d":"2018-07-04","v":16},{"s":"EOS","d":"2018-07-06","v":15},{"s":"EOS","d":"2018-07-08","v":12},{"s":"EOS","d":"2018-07-09","v":14},{"s":"EOS","d":"2018-07-10","v":12},{"s":"EOS","d":"2018-07-11","v":-4},{"s":"EOS","d":"2018-07-12","v":-7},{"s":"EOS","d":"2018-07-14","v":-10},{"s":"EOS","d":"2018-07-16","v":-10},{"s":"EOS","d":"2018-07-17","v":0},{"s":"EOS","d":"2018-07-19","v":14},{"s":"EOS","d":"2018-07-21","v":8},{"s":"EOS","d":"2018-07-22","v":3},{"s":"EOS","d":"2018-07-23","v":4},{"s":"EOS","d":"2018-07-25","v":2},{"s":"EOS","d":"2018-07-26","v":12},{"s":"EOS","d":"2018-07-27","v":9},{"s":"EOS","d":"2018-07-29","v":10},{"s":"EOS","d":"2018-07-31","v":9},{"s":"EOS","d":"2018-08-02","v":-3},{"s":"EOS","d":"2018-08-03","v":-7},{"s":"EOS","d":"2018-08-05","v":-6},{"s":"EOS","d":"2018-08-06","v":-8},{"s":"EOS","d":"2018-08-08","v":-8},{"s":"EOS","d":"2018-08-09","v":-15},{"s":"EOS","d":"2018-08-10","v":-26},{"s":"EOS","d":"2018-08-11","v":-26},{"s":"EOS","d":"2018-08-12","v":-34},{"s":"EOS","d":"2018-08-14","v":-36},{"s":"EOS","d":"2018-08-16","v":-40},{"s":"EOS","d":"2018-08-17","v":-40},{"s":"EOS","d":"2018-08-18","v":-41},{"s":"EOS","d":"2018-08-19","v":-28},{"s":"EOS","d":"2018-08-20","v":-33},{"s":"EOS","d":"2018-08-21","v":-31},{"s":"EOS","d":"2018-08-22","v":-38},{"s":"EOS","d":"2018-08-23","v":-36},{"s":"EOS","d":"2018-08-25","v":-38},{"s":"EOS","d":"2018-08-26","v":-34},{"s":"EOS","d":"2018-08-28","v":-34},{"s":"EOS","d":"2018-08-29","v":-29},{"s":"EOS","d":"2018-08-30","v":-23},{"s":"EOS","d":"2018-08-31","v":-19},{"s":"EOS","d":"2018-09-01","v":-21},{"s":"EOS","d":"2018-09-03","v":-12.5},{"s":"EOS","d":"2018-09-04","v":-14},{"s":"EOS","d":"2018-09-06","v":-15},{"s":"EOS","d":"2018-09-07","v":-32},{"s":"EOS","d":"2018-09-08","v":-33},{"s":"EOS","d":"2018-09-10","v":-38},{"s":"EOS","d":"2018-09-11","v":-35},{"s":"EOS","d":"2018-09-13","v":-34},{"s":"EOS","d":"2018-09-14","v":-36},{"s":"EOS","d":"2018-09-15","v":-29},{"s":"EOS","d":"2018-09-17","v":-30},{"s":"EOS","d":"2018-09-18","v":-30},{"s":"EOS","d":"2018-09-19","v":-36},{"s":"EOS","d":"2018-09-21","v":-32},{"s":"EOS","d":"2018-09-22","v":-30},{"s":"EOS","d":"2018-09-23","v":-19},{"s":"EOS","d":"2018-09-25","v":-21},{"s":"EOS","d":"2018-09-26","v":-25},{"s":"EOS","d":"2018-09-27","v":-30},{"s":"EOS","d":"2018-09-29","v":-24},{"s":"EOS","d":"2018-10-01","v":-25},{"s":"EOS","d":"2018-10-03","v":-26},{"s":"EOS","d":"2018-10-05","v":-26},{"s":"EOS","d":"2018-10-06","v":-24},{"s":"EOS","d":"2018-10-08","v":-25},{"s":"EOS","d":"2018-10-10","v":-22.5},{"s":"EOS","d":"2018-10-12","v":-23},{"s":"EOS","d":"2018-10-13","v":-34},{"s":"EOS","d":"2018-10-15","v":-32},{"s":"EOS","d":"2018-10-16","v":-31},{"s":"EOS","d":"2018-10-17","v":-27},{"s":"EOS","d":"2018-10-18","v":-28},{"s":"EOS","d":"2018-10-20","v":-30},{"s":"EOS","d":"2018-10-21","v":-30},{"s":"EOS","d":"2018-10-23","v":-28},{"s":"EOS","d":"2018-10-26","v":-30},{"s":"EOS","d":"2018-10-28","v":-30},{"s":"EOS","d":"2018-10-30","v":-30},{"s":"EOS","d":"2018-10-31","v":-34},{"s":"EOS","d":"2018-11-02","v":-32},{"s":"EOS","d":"2018-11-04","v":-30},{"s":"EOS","d":"2018-11-06","v":-29},{"s":"EOS","d":"2018-11-07","v":-27},{"s":"EOS","d":"2018-11-09","v":-25},{"s":"EOS","d":"2018-11-10","v":-27},{"s":"EOS","d":"2018-11-11","v":-30},{"s":"EOS","d":"2018-11-13","v":-28},{"s":"EOS","d":"2018-11-15","v":-30},{"s":"EOS","d":"2018-11-16","v":-38},{"s":"EOS","d":"2018-11-17","v":-39},{"s":"EOS","d":"2018-11-19","v":-40},{"s":"EOS","d":"2018-11-20","v":-41},{"s":"EOS","d":"2018-11-21","v":-46},{"s":"EOS","d":"2018-11-22","v":-51},{"s":"EOS","d":"2018-11-23","v":-52},{"s":"EOS","d":"2018-11-25","v":-54},{"s":"EOS","d":"2018-11-26","v":-57},{"s":"EOS","d":"2018-11-27","v":-56},{"s":"EOS","d":"2018-11-28","v":-60},{"s":"EOS","d":"2018-11-30","v":-58},{"s":"EOS","d":"2018-12-01","v":-62},{"s":"EOS","d":"2018-12-03","v":-63},{"s":"EOS","d":"2018-12-05","v":-68},{"s":"EOS","d":"2018-12-07","v":-73},{"s":"EOS","d":"2018-12-08","v":-77},{"s":"EOS","d":"2018-12-10","v":-75},{"s":"EOS","d":"2018-12-11","v":-76},{"s":"EOS","d":"2018-12-13","v":-75},{"s":"EOS","d":"2018-12-15","v":-76},{"s":"EOS","d":"2018-12-17","v":-76},{"s":"EOS","d":"2018-12-18","v":-76},{"s":"EOS","d":"2018-12-19","v":-69},{"s":"EOS","d":"2018-12-20","v":-65},{"s":"EOS","d":"2018-12-22","v":-66},{"s":"EOS","d":"2018-12-23","v":-65},{"s":"EOS","d":"2018-12-25","v":-64},{"s":"EOS","d":"2018-12-27","v":-66},{"s":"EOS","d":"2018-12-28","v":-69},{"s":"EOS","d":"2018-12-29","v":-70},{"s":"EOS","d":"2018-12-31","v":-66}
]},
"encoding":{
"x":{"field":"d","type":"temporal","scale":{"type":"utc","domain":[{"year":2018,"month":1,"date":1,"utc":true},{"year":2018,"month":12,"date":31,"utc":true}]},
"axis":{"title":null,"format":"%b %y","tickCount":{"interval":"month","step":1},"grid":false,"ticks":false,"domain":false,"labelFontSize":22,"labelColor":"#d6d6d6","labelPadding":15,"labelFlush":false,"labelOverlap":false,"labelFont":"Liberation Sans"}},
"y":{"field":"v","type":"quantitative","scale":{"domain":[-100,200],"nice":false,"zero":false},
"axis":{"title":null,"values":[-100,-50,0,50,100,150,200],"labelExpr":"datum.value + '%'","ticks":false,"domain":true,"domainColor":"#29333a","domainWidth":2,"grid":true,"gridColor":{"condition":{"test":"datum.value == 200 || datum.value == -100","value":"#29333a"},"value":"#8f969b"},"gridWidth":1,"gridOpacity":1,"labelFontSize":21,"labelColor":"#d6d6d6","labelPadding":19,"labelFont":"Liberation Sans"}},
"color":{"field":"s","type":"nominal","scale":{"domain":["BTC","XRP","ETH","BCH","EOS"],"range":["#f5a22e","#47ade8","#7b7b7b","#c4622b","#d5d5d5"]},"legend":{"title":null}},
"strokeWidth":{"field":"s","type":"ordinal","scale":{"domain":["BTC","XRP","ETH","BCH","EOS"],"range":[5.5,3,3.2,2,2]},"legend":{"title":null}}
},
"layer":[
{"data":{"name":"months"},"mark":{"type":"rule","color":"#8f969b","strokeWidth":1},"encoding":{"x":{"field":"d","type":"temporal"},"y":{"datum":0},"y2":{"datum":-3.3},"color":null,"strokeWidth":null}},
{"transform":[{"filter":"datum.s == 'BTC'"}],"mark":{"type":"line","strokeJoin":"round","strokeCap":"round"}},
{"transform":[{"filter":"datum.s == 'ETH'"}],"mark":{"type":"line","strokeJoin":"round","strokeCap":"round"},"encoding":{"color":{"value":"#a2a2a2"},"strokeWidth":{"value":5.5}}},
{"transform":[{"filter":"datum.s == 'ETH'"}],"mark":{"type":"line","strokeJoin":"round","strokeCap":"round"}},
{"transform":[{"filter":"datum.s == 'XRP'"}],"mark":{"type":"line","strokeJoin":"round","strokeCap":"round"}},
{"transform":[{"filter":"datum.s == 'BCH'"}],"mark":{"type":"line","strokeJoin":"round","strokeCap":"round"}},
{"transform":[{"filter":"datum.s == 'EOS'"}],"mark":{"type":"line","strokeJoin":"round","strokeCap":"round"}}
]
}
